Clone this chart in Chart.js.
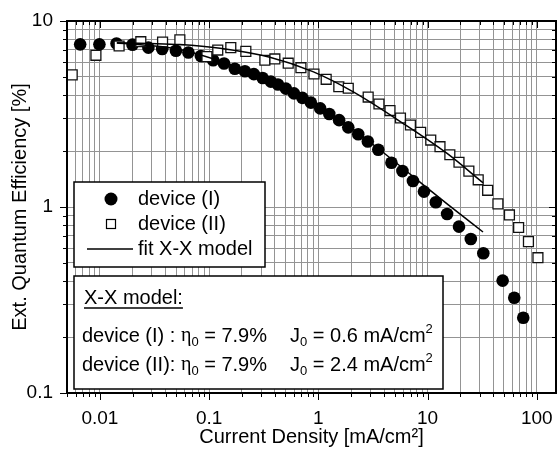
<!DOCTYPE html>
<html>
<head>
<meta charset="utf-8">
<script src="https://cdn.jsdelivr.net/npm/chart.js@4.4.1/dist/chart.umd.min.js"></script>
<style>
    html, body { margin: 0; padding: 0; background: #fff; }
    canvas { display: block; }
</style>
</head>
<body>
<canvas id="graficoEQE" width="557" height="450"></canvas>
<script>
// device (I) - círculos cheios
const densidadeI = [0.0066, 0.0099, 0.0142, 0.0199, 0.0278, 0.0372, 0.0497, 0.0646, 0.0841, 0.109,
    0.137, 0.172, 0.213, 0.257, 0.309, 0.368, 0.427, 0.505, 0.598, 0.715,
    0.855, 1.04, 1.26, 1.55, 1.88, 2.32, 2.84, 3.54, 4.67, 5.89,
    7.35, 9.27, 11.9, 15.1, 19.4, 24.9, 32.4, 48.7, 62.2, 75.2];
const eficienciaI = [7.49, 7.49, 7.57, 7.46, 7.19, 7.07, 6.92, 6.77, 6.48, 6.15,
    5.91, 5.54, 5.37, 5.18, 4.94, 4.72, 4.56, 4.33, 4.08, 3.86,
    3.64, 3.39, 3.16, 2.93, 2.68, 2.46, 2.25, 2.03, 1.73, 1.56,
    1.38, 1.21, 1.06, 0.917, 0.784, 0.673, 0.564, 0.402, 0.325, 0.254];

// device (II) - quadrados vazados
const densidadeII = [0.00558, 0.0092, 0.0150, 0.0237, 0.0375, 0.054, 0.0955, 0.120, 0.158, 0.217,
    0.324, 0.400, 0.530, 0.693, 0.912, 1.18, 1.54, 1.88, 2.86, 3.59,
    4.53, 5.65, 6.97, 8.65, 10.7, 13.0, 16.0, 19.4, 23.9, 29.1,
    35.5, 44.1, 56.2, 68.2, 83.9, 102.5];
const eficienciaII = [5.13, 6.54, 7.34, 7.74, 7.71, 7.93, 6.43, 6.98, 7.19, 6.87,
    6.15, 6.25, 5.93, 5.61, 5.19, 4.86, 4.43, 4.35, 3.90, 3.58,
    3.30, 3.01, 2.76, 2.52, 2.29, 2.11, 1.91, 1.74, 1.56, 1.40,
    1.23, 1.04, 0.906, 0.776, 0.651, 0.534];

// curvas de ajuste (modelo X-X)
const densidadeFitI = [0.0143, 0.0287, 0.054, 0.126, 0.292, 0.678, 1.58, 3.51, 7.35, 15.4, 32.2];
const eficienciaFitI = [7.62, 7.38, 7.03, 6.09, 5.06, 3.95, 2.94, 2.07, 1.46, 1.03, 0.734];
const densidadeFitII = [0.0143, 0.0287, 0.054, 0.126, 0.360, 0.892, 2.07, 5.95, 15.1, 32.2];
const eficienciaFitII = [7.64, 7.57, 7.47, 7.13, 6.38, 5.34, 4.17, 2.82, 1.94, 1.35];

// eixos
const limitesX = [0.005, 150];
const limitesY = [0.1, 10];
const ticksX = [0.01, 0.1, 1, 10, 100];
const rotulosX = ["0.01", "0.1", "1", "10", "100"];
const ticksY = [0.1, 1, 10];
const rotulosY = ["0.1", "1", "10"];

const FONTE = '"Liberation Sans", Arial, sans-serif';
const FONTE_GREGA = '"Liberation Serif", "Times New Roman", serif';

function pares(xs, ys) {
    return xs.map((x, i) => ({ x: x, y: ys[i] }));
}

// todas as linhas de grade de 1 a 9 em cada década
function gradeLog(min, max) {
    const valores = [];
    for (let e = -4; e <= 3; e++) {
        for (let m = 1; m <= 9; m++) {
            const v = m * Math.pow(10, e);
            if (v >= min * 0.999 && v <= max * 1.001) valores.push(v);
        }
    }
    return valores;
}

function ehMaior(v) {
    const l = Math.log10(v);
    return Math.abs(l - Math.round(l)) < 1e-9;
}

function rotulo(v, ticks, rotulos) {
    const i = ticks.findIndex(t => Math.abs(t - v) / t < 1e-6);
    return i >= 0 ? rotulos[i] : "";
}

// moldura preta e marcas de escala
const molduraPlugin = {
    id: "moldura",
    afterDraw(chart) {
        const { ctx, chartArea: a, scales } = chart;
        ctx.save();
        ctx.strokeStyle = "#000";
        ctx.lineWidth = 1;
        ctx.beginPath();
        scales.x.ticks.forEach(t => {
            const px = Math.round(scales.x.getPixelForValue(t.value)) + 0.5;
            const len = ehMaior(t.value) ? 7 : 4;
            ctx.moveTo(px, a.bottom);
            ctx.lineTo(px, a.bottom + len);
            ctx.moveTo(px, a.top);
            ctx.lineTo(px, a.top + len);
        });
        scales.y.ticks.forEach(t => {
            const py = Math.round(scales.y.getPixelForValue(t.value)) + 0.5;
            const len = ehMaior(t.value) ? 7 : 4;
            ctx.moveTo(a.left, py);
            ctx.lineTo(a.left - len, py);
            ctx.moveTo(a.right, py);
            ctx.lineTo(a.right - len, py);
        });
        ctx.stroke();
        ctx.lineWidth = 2;
        ctx.strokeRect(a.left, a.top, a.right - a.left, a.bottom - a.top);
        ctx.restore();
    }
};

// escreve pedaços de texto em sequência (normal, subscrito, sobrescrito)
function escreve(ctx, partes, x, y) {
    partes.forEach(([texto, fonte, dy]) => {
        ctx.font = fonte;
        ctx.fillText(texto, x, y + dy);
        x += ctx.measureText(texto).width;
    });
    return x;
}

// legenda e quadro com os parâmetros do modelo
const legendaPlugin = {
    id: "legendaCaixas",
    afterDraw(chart) {
        const ctx = chart.ctx;
        const normal = `20px ${FONTE}`;
        const pequena = `13px ${FONTE}`;
        const grega = `20px ${FONTE_GREGA}`;

        ctx.save();
        ctx.lineWidth = 1.5;
        ctx.strokeStyle = "#000";
        ctx.fillStyle = "#fff";
        ctx.fillRect(74, 182, 191, 85);
        ctx.strokeRect(74, 182, 191, 85);
        ctx.fillRect(74, 276, 369, 113);
        ctx.strokeRect(74, 276, 369, 113);

        ctx.fillStyle = "#000";
        ctx.textBaseline = "middle";
        ctx.textAlign = "left";

        // device (I)
        ctx.beginPath();
        ctx.arc(111, 199, 6.5, 0, Math.PI * 2);
        ctx.fill();
        // device (II)
        ctx.lineWidth = 1.2;
        ctx.strokeRect(106.5, 219.5, 9, 9);
        // ajuste
        ctx.lineWidth = 1.5;
        ctx.beginPath();
        ctx.moveTo(87, 249);
        ctx.lineTo(133, 249);
        ctx.stroke();

        ctx.font = normal;
        ctx.fillText("device (I)", 138, 199);
        ctx.fillText("device (II)", 138, 224);
        ctx.fillText("fit X-X model", 138, 249);

        // título sublinhado
        ctx.fillText("X-X model:", 84, 298);
        const largura = ctx.measureText("X-X model:").width;
        ctx.lineWidth = 1.3;
        ctx.beginPath();
        ctx.moveTo(84, 308);
        ctx.lineTo(84 + largura, 308);
        ctx.stroke();

        escreve(ctx, [["device (I) : ", normal, 0], ["η", grega, 0], ["0", pequena, 6], [" = 7.9%", normal, 0]], 82, 336);
        escreve(ctx, [["device (II): ", normal, 0], ["η", grega, 0], ["0", pequena, 6], [" = 7.9%", normal, 0]], 82, 365);
        escreve(ctx, [["J", normal, 0], ["0", pequena, 6], [" = 0.6 mA/cm", normal, 0], ["2", pequena, -7]], 290, 336);
        escreve(ctx, [["J", normal, 0], ["0", pequena, 6], [" = 2.4 mA/cm", normal, 0], ["2", pequena, -7]], 290, 365);
        ctx.restore();
    }
};

const ctx = document.getElementById("graficoEQE").getContext("2d");

new Chart(ctx, {
    type: "scatter",
    data: {
        datasets: [
            {
                label: "fit X-X model",
                data: pares(densidadeFitI, eficienciaFitI),
                showLine: true,
                borderColor: "#000",
                borderWidth: 1.5,
                pointRadius: 0,
                cubicInterpolationMode: "monotone",
                order: 0
            },
            {
                label: "fit X-X model (II)",
                data: pares(densidadeFitII, eficienciaFitII),
                showLine: true,
                borderColor: "#000",
                borderWidth: 1.5,
                pointRadius: 0,
                cubicInterpolationMode: "monotone",
                order: 0
            },
            {
                label: "device (II)",
                data: pares(densidadeII, eficienciaII),
                pointStyle: "rect",
                pointRadius: 7,
                backgroundColor: "#fff",
                borderColor: "#111",
                borderWidth: 1.3,
                order: 1
            },
            {
                label: "device (I)",
                data: pares(densidadeI, eficienciaI),
                pointStyle: "circle",
                pointRadius: 6.3,
                backgroundColor: "#000",
                borderWidth: 0,
                order: 2
            }
        ]
    },
    plugins: [molduraPlugin, legendaPlugin],
    options: {
        responsive: false,
        animation: false,
        events: [],
        // sem recuo automático pelo tamanho dos pontos
        layout: { autoPadding: false, padding: { top: 21, right: 1, bottom: 0, left: 0 } },
        plugins: {
            legend: { display: false },
            tooltip: { enabled: false }
        },
        scales: {
            x: {
                type: "logarithmic",
                min: limitesX[0],
                max: limitesX[1],
                afterBuildTicks: (scale) => {
                    scale.ticks = gradeLog(limitesX[0], limitesX[1]).map(v => ({ value: v }));
                },
                // altura fixa e sem recuo lateral por causa dos rótulos
                afterFit: (scale) => {
                    scale.height = 57;
                    scale.paddingLeft = 0;
                    scale.paddingRight = 0;
                },
                grid: { color: "#949494", lineWidth: 1, drawTicks: false },
                border: { display: false },
                ticks: {
                    autoSkip: false,
                    maxRotation: 0,
                    padding: 14,
                    color: "#000",
                    font: { family: FONTE, size: 19 },
                    callback: (v) => rotulo(v, ticksX, rotulosX)
                },
                title: {
                    display: true,
                    text: "Current Density [mA/cm²]",
                    color: "#000",
                    font: { family: FONTE, size: 20, lineHeight: 1 },
                    padding: { top: 0, bottom: 3 }
                }
            },
            y: {
                type: "logarithmic",
                min: limitesY[0],
                max: limitesY[1],
                afterBuildTicks: (scale) => {
                    scale.ticks = gradeLog(limitesY[0], limitesY[1]).map(v => ({ value: v }));
                },
                afterFit: (scale) => {
                    scale.width = 67;
                    scale.paddingTop = 0;
                    scale.paddingBottom = 0;
                },
                grid: { color: "#949494", lineWidth: 1, drawTicks: false },
                border: { display: false },
                ticks: {
                    autoSkip: false,
                    padding: 14,
                    color: "#000",
                    font: { family: FONTE, size: 19 },
                    callback: (v) => rotulo(v, ticksY, rotulosY)
                },
                title: {
                    display: true,
                    text: "Ext. Quantum Efficiency [%]",
                    color: "#000",
                    font: { family: FONTE, size: 20 },
                    padding: { top: 8, bottom: 0 }
                }
            }
        }
    }
});
</script>
</body>
</html>
